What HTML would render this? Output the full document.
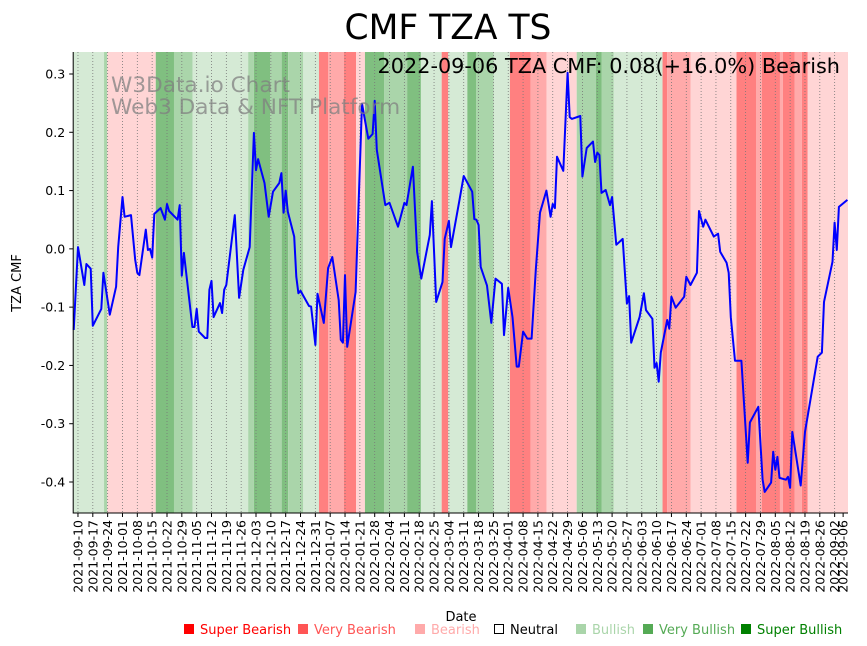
<!DOCTYPE html>
<html><head><meta charset="utf-8"><style>
body{margin:0;background:#fff;}
svg{display:block;font-family:"DejaVu Sans","Liberation Sans",sans-serif;}
</style></head><body>
<svg id="chart" width="867" height="646" viewBox="0 0 867 646">
<g id="bands"></g>
<g id="grid"></g>
<polyline id="line" fill="none" stroke="#0000ff" stroke-width="2" stroke-linejoin="round"/>
<g id="axes"></g>
<text x="448" y="39" font-size="34.5" text-anchor="middle">CMF TZA TS</text>
<text x="840" y="73" font-size="20.8" text-anchor="end">2022-09-06 TZA CMF: 0.08(+16.0%) Bearish</text>
<text x="111" y="92" font-size="21.6" fill="#808080" fill-opacity="0.75">W3Data.io Chart</text>
<text x="111" y="114" font-size="21.6" fill="#808080" fill-opacity="0.75">Web3 Data &amp; NFT Platform</text>
<text transform="translate(21,283) rotate(-90)" font-size="13" text-anchor="middle">TZA CMF</text>
<text x="461" y="621" font-size="13" text-anchor="middle">Date</text>
<g font-size="13">
<rect x="184" y="624" width="10" height="10" fill="#ff0000"/>
<text x="200" y="634" fill="#ff0000">Super Bearish</text>
<rect x="298" y="624" width="10" height="10" fill="#ff5555"/>
<text x="314" y="634" fill="#ff5555">Very Bearish</text>
<rect x="415" y="624" width="10" height="10" fill="#ffaaaa"/>
<text x="431" y="634" fill="#ffaaaa">Bearish</text>
<rect x="494.5" y="624.5" width="9" height="9" fill="none" stroke="#000"/>
<text x="510" y="634" fill="#000">Neutral</text>
<rect x="576" y="624" width="10" height="10" fill="#aad5aa"/>
<text x="592" y="634" fill="#aad5aa">Bullish</text>
<rect x="643" y="624" width="10" height="10" fill="#55aa55"/>
<text x="659" y="634" fill="#55aa55">Very Bullish</text>
<rect x="741" y="624" width="10" height="10" fill="#008000"/>
<text x="757" y="634" fill="#008000">Super Bullish</text>
</g>
</svg>
<script>
// days since 2021-09-07
const days=[1,3,6,7,9,10,14,15,18,21,22,24,25,28,30,31,32,35,36,37,38,39,42,44,45,46,50,51,52,53,57,58,59,60,63,64,65,66,67,70,71,72,73,77,79,81,84,86,87,88,91,93,95,98,99,100,101,102,105,106,107,108,112,113,115,116,119,121,123,126,127,128,129,130,134,137,140,142,143,144,148,150,154,157,158,161,163,165,169,170,172,175,176,178,179,183,185,189,190,191,192,193,196,198,200,203,204,206,208,210,211,213,215,217,219,221,224,226,227,228,229,232,234,235,236,240,241,243,246,247,248,249,250,252,254,255,257,260,262,263,264,268,270,271,274,275,276,277,278,281,282,283,285,289,290,292,295,296,298,299,303,305,306,309,310,311,313,316,319,320,324,326,327,330,331,332,333,334,337,338,339,340,344,346,352,354,355,359,360,361,362,366];
const cmf=[-0.139,0.003,-0.062,-0.026,-0.034,-0.132,-0.103,-0.041,-0.113,-0.065,0.003,0.089,0.055,0.058,-0.019,-0.041,-0.045,0.033,-0.002,0,-0.015,0.06,0.07,0.05,0.077,0.065,0.05,0.075,-0.046,-0.007,-0.134,-0.134,-0.103,-0.142,-0.153,-0.153,-0.07,-0.055,-0.117,-0.093,-0.11,-0.07,-0.062,0.058,-0.084,-0.036,0.003,0.199,0.135,0.154,0.113,0.055,0.098,0.113,0.13,0.062,0.1,0.064,0.021,-0.048,-0.076,-0.072,-0.098,-0.099,-0.165,-0.077,-0.127,-0.033,-0.014,-0.088,-0.156,-0.161,-0.045,-0.168,-0.074,0.249,0.189,0.197,0.254,0.17,0.075,0.079,0.038,0.079,0.075,0.141,-0.005,-0.051,0.024,0.082,-0.091,-0.057,0.017,0.048,0.003,0.084,0.125,0.098,0.051,0.05,0.041,-0.031,-0.063,-0.127,-0.051,-0.06,-0.148,-0.067,-0.117,-0.202,-0.202,-0.142,-0.154,-0.154,-0.036,0.062,0.1,0.055,0.077,0.07,0.158,0.134,0.302,0.226,0.223,0.228,0.124,0.173,0.184,0.149,0.165,0.161,0.096,0.101,0.075,0.089,0.007,0.017,-0.094,-0.081,-0.161,-0.117,-0.076,-0.105,-0.12,-0.204,-0.196,-0.228,-0.178,-0.122,-0.137,-0.082,-0.101,-0.082,-0.048,-0.062,-0.041,0.065,0.038,0.05,0.021,0.026,-0.005,-0.024,-0.041,-0.117,-0.192,-0.192,-0.367,-0.298,-0.271,-0.396,-0.417,-0.401,-0.348,-0.379,-0.357,-0.393,-0.396,-0.391,-0.41,-0.314,-0.406,-0.314,-0.185,-0.178,-0.091,-0.022,0.045,-0.002,0.072,0.084];
const bandEdges=[0.75,15.3,16.8,39.7,48.3,57.1,83.3,86,93.6,99.1,102.2,109.3,116.7,121.1,128.5,134.2,138.4,147.4,158.3,164.8,174.6,177.7,186.7,190.8,199.2,206.8,216.6,224.1,238.3,247.4,250,255.8,278.8,281,292,313.7,322.9,325.7,334.2,335.6,341.2,344.5,347.3,366.3];
const bandLevels=[1,2,-1,3,2,1,2,3,2,3,2,1,-3,-2,-3,-1,3,2,3,1,-3,1,3,2,1,-3,-2,-1,2,3,2,1,-3,-2,-1,-3,-2,-3,-2,-3,-2,-3,-1];
const yTicks=[0.3,0.2,0.1,0.0,-0.1,-0.2,-0.3,-0.4];
const tickLabels=["2021-09-10","2021-09-17","2021-09-24","2021-10-01","2021-10-08","2021-10-15","2021-10-22","2021-10-29","2021-11-05","2021-11-12","2021-11-19","2021-11-26","2021-12-03","2021-12-10","2021-12-17","2021-12-24","2021-12-31","2022-01-07","2022-01-14","2022-01-21","2022-01-28","2022-02-04","2022-02-11","2022-02-18","2022-02-25","2022-03-04","2022-03-11","2022-03-18","2022-03-25","2022-04-01","2022-04-08","2022-04-15","2022-04-22","2022-04-29","2022-05-06","2022-05-13","2022-05-20","2022-05-27","2022-06-03","2022-06-10","2022-06-17","2022-06-24","2022-07-01","2022-07-08","2022-07-15","2022-07-22","2022-07-29","2022-08-05","2022-08-12","2022-08-19","2022-08-26","2022-09-02","2022-09-06"];
const tickDays=[3,10,17,24,31,38,45,52,59,66,73,80,87,94,101,108,115,122,129,136,143,150,157,164,171,178,185,192,199,206,213,220,227,234,241,248,255,262,269,276,283,290,297,304,311,318,325,332,339,346,353,360,364];

const X0=73.2,X1=848,Y0=52,Y1=513,DMIN=0.75,DMAX=366.3,VMAX=0.3,VMIN=-0.4,PY0=74,PY1=482;
const xs=d=>X0+(d-DMIN)/(DMAX-DMIN)*(X1-X0);
const ys=v=>PY0+(VMAX-v)/(VMAX-VMIN)*(PY1-PY0);
const NS="http://www.w3.org/2000/svg";
const colors={"1":"#d5ead5","2":"#aad5aa","3":"#80bf80","-1":"#ffd5d5","-2":"#ffaaaa","-3":"#ff8080"};
const bands=document.getElementById('bands');
for(let i=0;i<bandLevels.length;i++){
  const r=document.createElementNS(NS,'rect');
  
  
  const a=xs(bandEdges[i]),b=xs(bandEdges[i+1]);
  r.setAttribute('x',a);r.setAttribute('width',Math.max(0,b-a));
  r.setAttribute('y',Y0);r.setAttribute('height',Y1-Y0);
  r.setAttribute('fill',colors[bandLevels[i]]);
  bands.appendChild(r);
}
const grid=document.getElementById('grid');
const axes=document.getElementById('axes');
tickDays.forEach((d,i)=>{
  const x=xs(d);
  if(i<tickDays.length-1){
    const g=document.createElementNS(NS,'line');
    
    
    g.setAttribute('x1',x);g.setAttribute('x2',x);g.setAttribute('y1',Y0);g.setAttribute('y2',Y1);
    g.setAttribute('stroke','#777');g.setAttribute('stroke-width','0.8');g.setAttribute('stroke-dasharray','1,2');
    grid.appendChild(g);
  }
  const t=document.createElementNS(NS,'line');
  
  
  t.setAttribute('x1',x);t.setAttribute('x2',x);t.setAttribute('y1',Y1);t.setAttribute('y2',Y1+4);
  t.setAttribute('stroke','#000');
  axes.appendChild(t);
  const l=document.createElementNS(NS,'text');
  
  
  l.setAttribute('transform','translate('+(x+4.5)+','+(Y1+7)+') rotate(-90)');
  l.setAttribute('text-anchor','end');l.setAttribute('font-size','12.5');
  l.textContent=tickLabels[i];
  axes.appendChild(l);
});
yTicks.forEach(v=>{
  const y=ys(v);
  const t=document.createElementNS(NS,'line');
  
  
  t.setAttribute('x1',X0-4);t.setAttribute('x2',X0);t.setAttribute('y1',y);t.setAttribute('y2',y);
  t.setAttribute('stroke','#000');
  axes.appendChild(t);
  const l=document.createElementNS(NS,'text');
  
  
  l.setAttribute('x',X0-8);l.setAttribute('y',y+4.5);l.setAttribute('text-anchor','end');l.setAttribute('font-size','12.5');
  l.textContent=v.toFixed(1);
  axes.appendChild(l);
});
const sp=document.createElementNS(NS,'path');


sp.setAttribute('d','M'+X0+','+Y0+'V'+Y1+'H'+X1);
sp.setAttribute('stroke','#000');sp.setAttribute('fill','none');sp.setAttribute('stroke-width','1');
axes.appendChild(sp);
document.getElementById('line').setAttribute('points',days.map((d,i)=>xs(d).toFixed(1)+','+ys(cmf[i]).toFixed(1)).join(' '));
</script>
</body></html>
